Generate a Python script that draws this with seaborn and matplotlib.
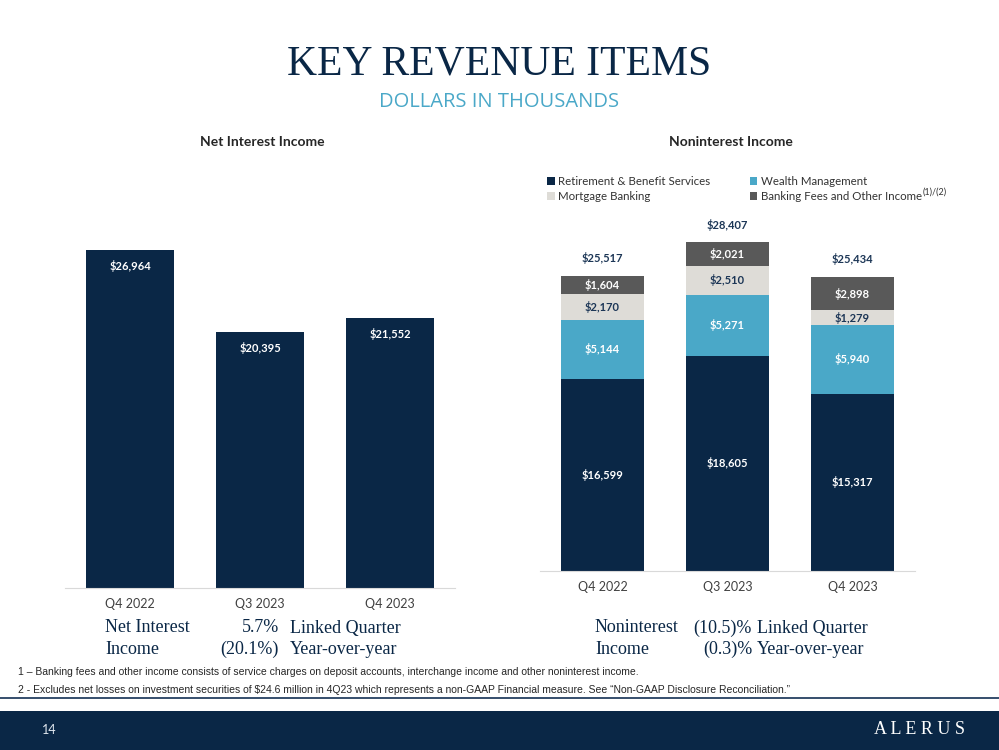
import matplotlib
matplotlib.use('Agg')
import matplotlib.pyplot as plt
import seaborn as sns
import pandas as pd
from matplotlib.patches import Rectangle

sns.set_style('white')
plt.rcParams['font.family'] = ['Lato', 'DejaVu Sans']

# ------------------------------------------------------------
# data
# ------------------------------------------------------------
quarters = ['Q4 2022', 'Q3 2023', 'Q4 2023']
net_interest = [26964, 20395, 21552]

series_names = ['Retirement & Benefit Services', 'Wealth Management',
                'Mortgage Banking', 'Banking Fees and Other Income']
retirement = [16599, 18605, 15317]
wealth = [5144, 5271, 5940]
mortgage = [2170, 2510, 1279]
banking_fees = [1604, 2021, 2898]
nonint_totals = [25517, 28407, 25434]

NAVY = '#0a2746'
BLUE = '#4aa8c8'
LGRAY = '#dedcd7'
DGRAY = '#595959'
TXT = '#1c3656'
series_colors = [NAVY, BLUE, LGRAY, DGRAY]
label_colors = ['white', 'white', TXT, 'white']

fig = plt.figure(figsize=(9.99, 7.5), dpi=100)
W, H = 999, 750

def px_axes(x0, y0, x1, y1):
    return fig.add_axes([x0 / W, 1 - y1 / H, (x1 - x0) / W, (y1 - y0) / H])

# ------------------------------------------------------------
# left chart: net interest income
# ------------------------------------------------------------
ax1 = px_axes(65, 212, 455, 588)
df_ni = pd.DataFrame({'quarter': quarters, 'value': net_interest})
sns.barplot(data=df_ni, x='quarter', y='value', color=NAVY, width=0.68,
            saturation=1, linewidth=0, ax=ax1)
for i, v in enumerate(net_interest):
    ax1.text(i, v - 800, f'${v:,}', ha='center', va='top', color='white',
             fontsize=8, fontweight='bold')
ax1.set_ylim(0, 30000)
ax1.set_xlim(-0.5, 2.5)

# ------------------------------------------------------------
# right chart: noninterest income (stacked)
# ------------------------------------------------------------
ax2 = px_axes(540, 224, 915, 571)
stack = [retirement, wealth, mortgage, banking_fees]
bottom = [0, 0, 0]
for vals, name, col, lc in zip(stack, series_names, series_colors, label_colors):
    ax2.bar(range(3), vals, bottom=bottom, width=0.66, color=col, label=name,
            linewidth=0)
    for i, v in enumerate(vals):
        ax2.text(i, bottom[i] + v / 2, f'${v:,}', ha='center', va='center',
                 color=lc, fontsize=8, fontweight='bold')
    bottom = [b + v for b, v in zip(bottom, vals)]
for i, t in enumerate(nonint_totals):
    ax2.text(i, t + 1000, f'${t:,}', ha='center', va='bottom', color=TXT,
             fontsize=8, fontweight='bold')
ax2.set_ylim(0, 30000)
ax2.set_xlim(-0.5, 2.5)
ax2.set_xticks(range(3))
ax2.set_xticklabels(quarters)

for ax in (ax1, ax2):
    ax.set_xlabel('')
    ax.set_ylabel('')
    ax.set_yticks([])
    for s in ('top', 'right', 'left'):
        ax.spines[s].set_visible(False)
    ax.spines['bottom'].set_color('#d9d9d9')
    ax.tick_params(axis='x', length=0, labelsize=9, labelcolor='#404040', pad=7)

# legend (row 1: retirement, wealth; row 2: mortgage, banking fees)
handles, labels = ax2.get_legend_handles_labels()
order = [0, 2, 1, 3]
leg = fig.legend([handles[k] for k in order], [labels[k] for k in order],
                 loc='upper left', bbox_to_anchor=(537 / W, 1 - 166 / H),
                 ncol=2, frameon=False, fontsize=8.3, handlelength=0.65,
                 handleheight=0.65, handletextpad=0.3, columnspacing=3.4,
                 labelspacing=0.3, labelcolor='#333333')
fig.canvas.draw()
last = leg.get_texts()[3].get_window_extent()
fig.text((last.x1 + 1) / W, (last.y1 + 3) / H, '(1)/(2)', fontsize=6.5,
         color='#333333', va='top')

# ------------------------------------------------------------
# titles and texts
# ------------------------------------------------------------
fig.text(0.5, 1 - 64 / H, 'KEY REVENUE ITEMS', ha='center', va='center',
         fontsize=30, color=NAVY, family=['Liberation Serif'])
fig.text(0.5, 1 - 102 / H, 'DOLLARS IN THOUSANDS', ha='center', va='center',
         fontsize=14.5, color=BLUE, family=['Open Sans'])
fig.text(262 / W, 1 - 142 / H, 'Net Interest Income', ha='center', va='center',
         fontsize=10, fontweight='bold', color='#262626')
fig.text(731 / W, 1 - 142 / H, 'Noninterest Income', ha='center', va='center',
         fontsize=10, fontweight='bold', color='#262626')

serif = ['Liberation Serif']
tc = NAVY
fs = 13
fig.text(105 / W, 1 - 628 / H, 'Net Interest', fontsize=fs, color=tc, va='center', family=serif)
fig.text(105 / W, 1 - 649 / H, 'Income', fontsize=fs, color=tc, va='center', family=serif)
fig.text(279 / W, 1 - 628 / H, '5.7%', fontsize=fs, color=tc, va='center', ha='right', family=serif)
fig.text(279 / W, 1 - 649 / H, '(20.1%)', fontsize=fs, color=tc, va='center', ha='right', family=serif)
fig.text(290 / W, 1 - 628 / H, 'Linked Quarter', fontsize=fs, color=tc, va='center', family=serif)
fig.text(290 / W, 1 - 649 / H, 'Year-over-year', fontsize=fs, color=tc, va='center', family=serif)

fig.text(595 / W, 1 - 628 / H, 'Noninterest', fontsize=fs, color=tc, va='center', family=serif)
fig.text(595 / W, 1 - 649 / H, 'Income', fontsize=fs, color=tc, va='center', family=serif)
fig.text(752 / W, 1 - 628 / H, '(10.5)%', fontsize=fs, color=tc, va='center', ha='right', family=serif)
fig.text(752 / W, 1 - 649 / H, '(0.3)%', fontsize=fs, color=tc, va='center', ha='right', family=serif)
fig.text(757 / W, 1 - 628 / H, 'Linked Quarter', fontsize=fs, color=tc, va='center', family=serif)
fig.text(757 / W, 1 - 649 / H, 'Year-over-year', fontsize=fs, color=tc, va='center', family=serif)

fn = ['Liberation Sans Narrow', 'Liberation Sans']
fig.text(18 / W, 1 - 672 / H,
         '1 \u2013 Banking fees and other income consists of service charges on deposit accounts, '
         'interchange income and other noninterest income.',
         fontsize=7.5, color='#262626', va='center', family=fn)
fig.text(18 / W, 1 - 690 / H,
         '2 - Excludes net losses on investment securities of $24.6 million in 4Q23 which represents '
         'a non-GAAP Financial measure. See \u201cNon-GAAP Disclosure Reconciliation.\u201d',
         fontsize=7.5, color='#262626', va='center', family=fn)

# footer band
fig.add_artist(Rectangle((0, 1 - 699 / H), 1, 2.5 / H, transform=fig.transFigure,
                         color='#3a5270', lw=0))
fig.add_artist(Rectangle((0, 0), 1, 39 / H, transform=fig.transFigure,
                         color=NAVY, lw=0))
fig.text(42 / W, 1 - 730 / H, '14', fontsize=9, color='#dfe6ee', va='center')
fig.text(965 / W, 1 - 729 / H, 'A L E R U S', fontsize=13, color='white',
         va='center', ha='right', family=serif)

fig.savefig('out.png', dpi=100)
